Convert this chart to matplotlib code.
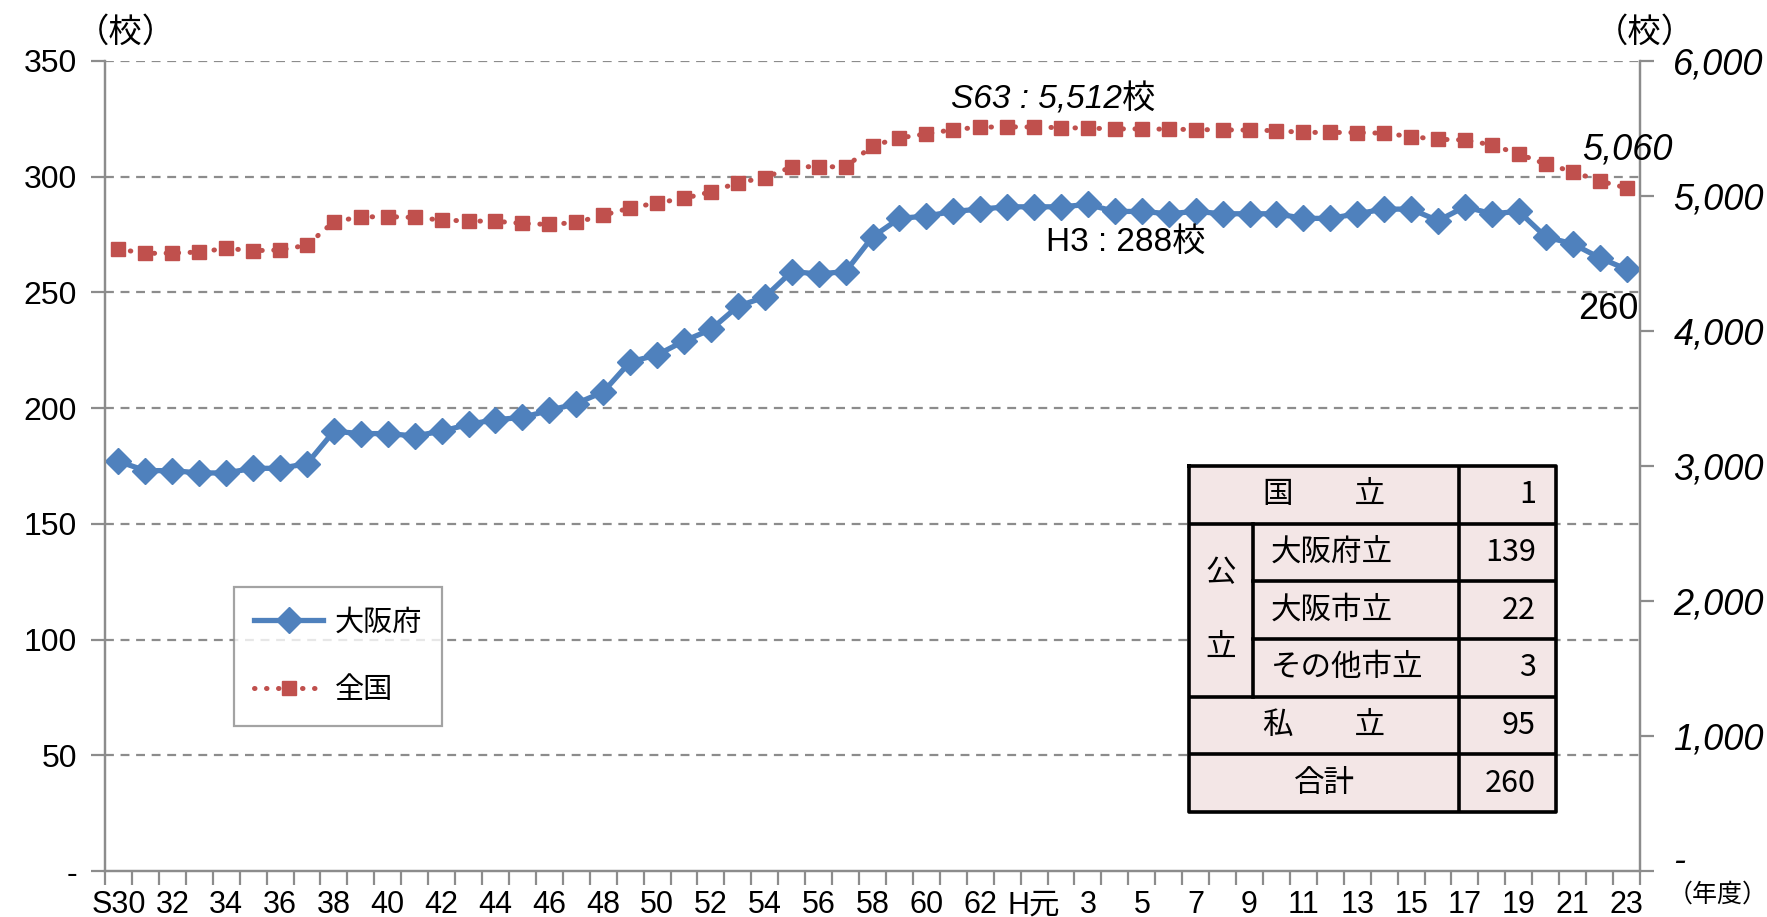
import matplotlib
matplotlib.use('Agg')
import matplotlib.pyplot as plt
from matplotlib import font_manager
from matplotlib.lines import Line2D
from matplotlib.patches import Rectangle

# ---- data ----
years = ['S30'] + [str(y) for y in range(31, 64)] + ['H元'] + [str(y) for y in range(2, 24)]
osaka = [177, 173, 173, 172, 172, 174, 174, 176, 190, 189, 189, 188, 190, 193, 195, 196,
         199, 202, 207, 220, 223, 229, 234, 244, 248, 259, 258, 259, 274, 282, 283, 285,
         286, 287, 287, 287, 288, 285, 285, 284, 285, 284, 284, 284, 282, 282, 284, 286,
         286, 281, 287, 284, 285, 274, 271, 265, 260]
national = [4607, 4575, 4577, 4585, 4612, 4595, 4600, 4636, 4810, 4845, 4847, 4841, 4822,
            4815, 4813, 4797, 4789, 4804, 4858, 4911, 4949, 4982, 5031, 5098, 5136, 5215,
            5218, 5215, 5372, 5430, 5460, 5492, 5510, 5512, 5511, 5506, 5503, 5497, 5497,
            5495, 5492, 5490, 5488, 5484, 5471, 5471, 5470, 5465, 5440, 5420, 5415, 5378,
            5311, 5237, 5181, 5111, 5060]
left_ticks = [0, 50, 100, 150, 200, 250, 300, 350]
right_ticks = [0, 1000, 2000, 3000, 4000, 5000, 6000]

table_labels = ['国　　立', '大阪府立', '大阪市立', 'その他市立', '私　　立', '合計']
table_values = [1, 139, 22, 3, 95, 260]

# ---- fonts ----
avail = {f.name for f in font_manager.fontManager.ttflist}
narrow = 'Liberation Sans Narrow' if 'Liberation Sans Narrow' in avail else 'Liberation Sans'
JP = 'Noto Sans CJK JP'
plt.rcParams['font.family'] = ['Liberation Sans', JP, 'DejaVu Sans']

W, H = 1767, 917
fig = plt.figure(figsize=(W / 100, H / 100), dpi=100)

def fx(px):
    return px / W

def fy(py):
    return 1 - py / H

ax = fig.add_axes([fx(105), fy(871), fx(1640 - 105), (871 - 61) / H])
ax2 = ax.twinx()

blue = '#4F81BD'
red = '#C0504D'
grey = '#8C8C8C'

x = list(range(len(years)))
ax.plot(x, osaka, color=blue, lw=3.8, marker='D', ms=13, mec=blue, mfc=blue, zorder=3)
ax2.plot(x, national, color=red, lw=3.6, linestyle=(0, (0.1, 2.3)), dash_capstyle='round',
         marker='s', ms=10, mec=red, mfc=red, zorder=3)

ax.set_xlim(-0.5, len(years) - 0.5)
ax.set_ylim(0, 350)
ax2.set_ylim(0, 6000)

# grid
for v in left_ticks[1:]:
    ax.axhline(v, color=grey, lw=1.6, linestyle=(0, (4, 3)), zorder=1)

for a in (ax, ax2):
    a.spines['top'].set_visible(False)
    for s in ('left', 'right', 'bottom'):
        a.spines[s].set_color(grey)
        a.spines[s].set_linewidth(1.6)

# left axis
ax.set_yticks(left_ticks)
ax.set_yticklabels(['-' if v == 0 else str(v) for v in left_ticks], fontsize=23)
ax.tick_params(axis='y', length=10, width=1.6, color=grey, pad=10)

# right axis
ax2.set_yticks(right_ticks)
ax2.set_yticklabels(['-' if v == 0 else f'{v:,}' for v in right_ticks],
                    fontsize=26, family=[narrow, JP], style='italic')
ax2.tick_params(axis='y', length=10, width=1.6, color=grey, pad=14)
ax2.get_yticklabels()[0].set_va('baseline')

# x axis
ax.set_xticks(x[::2])
ax.set_xticklabels(years[::2], fontsize=22, family=[narrow, JP])
ax.set_xticks([i - 0.5 for i in range(len(years) + 1)], minor=True)
ax.tick_params(axis='x', which='major', length=0, pad=14)
ax.tick_params(axis='x', which='minor', length=10, width=1.6, color=grey)
ax2.tick_params(axis='x', which='both', length=0)

# units
fig.text(fx(126), fy(32), '（校）', ha='center', va='center', fontsize=24, family=[JP])
fig.text(fx(1645), fy(32), '（校）', ha='center', va='center', fontsize=24, family=[JP])
fig.text(fx(1668), fy(895), '（年度）', ha='left', va='center', fontsize=18, family=[JP])

# annotations
ax2.annotate('S63 : 5,512校', xy=(33, 5512), xytext=(33, 20), textcoords='offset points',
             ha='center', va='center', fontsize=24, style='italic', family=[narrow, JP])
ax.annotate('H3 : 288校', xy=(36, 288), xytext=(27, -27), textcoords='offset points',
            ha='center', va='center', fontsize=24, family=[narrow, JP])
ax2.annotate('5,060', xy=(56, 5060), xytext=(1, 27), textcoords='offset points',
             ha='center', va='center', fontsize=26, style='italic', family=[narrow, JP])
ax.annotate('260', xy=(56, 260), xytext=(-13, -29), textcoords='offset points',
            ha='center', va='center', fontsize=26, family=[narrow, JP])

# legend
handles = [Line2D([], [], color=blue, lw=3.8, marker='D', ms=13, mec=blue, mfc=blue),
           Line2D([], [], color=red, lw=3.6, linestyle=(0, (0.1, 2.3)), dash_capstyle='round',
                  marker='s', ms=10, mec=red, mfc=red)]
leg = ax2.legend(handles, ['大阪府', '全国'], loc='upper left',
                 bbox_to_anchor=(fx(234), fy(587)), bbox_transform=fig.transFigure,
                 prop={'family': JP, 'size': 21}, frameon=True, fancybox=False,
                 handlelength=2.35, labelspacing=1.3, borderpad=0.7, handletextpad=0.4,
                 borderaxespad=0)
leg.get_frame().set_edgecolor(grey)
leg.get_frame().set_linewidth(1.6)

# table (inset)
tx0, tx1, tx2, tx3 = 1189, 1253, 1459, 1556
ty0, ty1 = 466, 812
tab = fig.add_axes([fx(tx0), fy(ty1), fx(tx3 - tx0), (ty1 - ty0) / H])
n = len(table_values)
tab.set_xlim(tx0, tx3)
tab.set_ylim(n, 0)
tab.axis('off')
tab.add_patch(Rectangle((tx0, 0), tx3 - tx0, n, facecolor='#F3E6E6', edgecolor='none'))
lw = 2.6
tab.plot([tx0, tx3, tx3, tx0, tx0], [0, 0, n, n, 0], color='black', lw=lw, clip_on=False)
tab.plot([tx2, tx2], [0, n], color='black', lw=lw)
tab.plot([tx1, tx1], [1, 4], color='black', lw=lw)
for r in range(1, n):
    if r in (2, 3):
        tab.plot([tx1, tx3], [r, r], color='black', lw=lw)
    else:
        tab.plot([tx0, tx3], [r, r], color='black', lw=lw)
fs = 22
for r, (lab, val) in enumerate(zip(table_labels, table_values)):
    if r in (1, 2, 3):
        tab.text(tx1 + 18, r + 0.5, lab, ha='left', va='center', fontsize=fs, family=[JP])
    else:
        tab.text((tx0 + tx2) / 2, r + 0.5, lab, ha='center', va='center', fontsize=fs, family=[JP])
    tab.text(tx3 - 20, r + 0.5, str(val), ha='right', va='center', fontsize=fs, family=[JP])
tab.text((tx0 + tx1) / 2, 1.85, '公', ha='center', va='center', fontsize=fs, family=[JP])
tab.text((tx0 + tx1) / 2, 3.15, '立', ha='center', va='center', fontsize=fs, family=[JP])

fig.savefig('out.png', dpi=100)
